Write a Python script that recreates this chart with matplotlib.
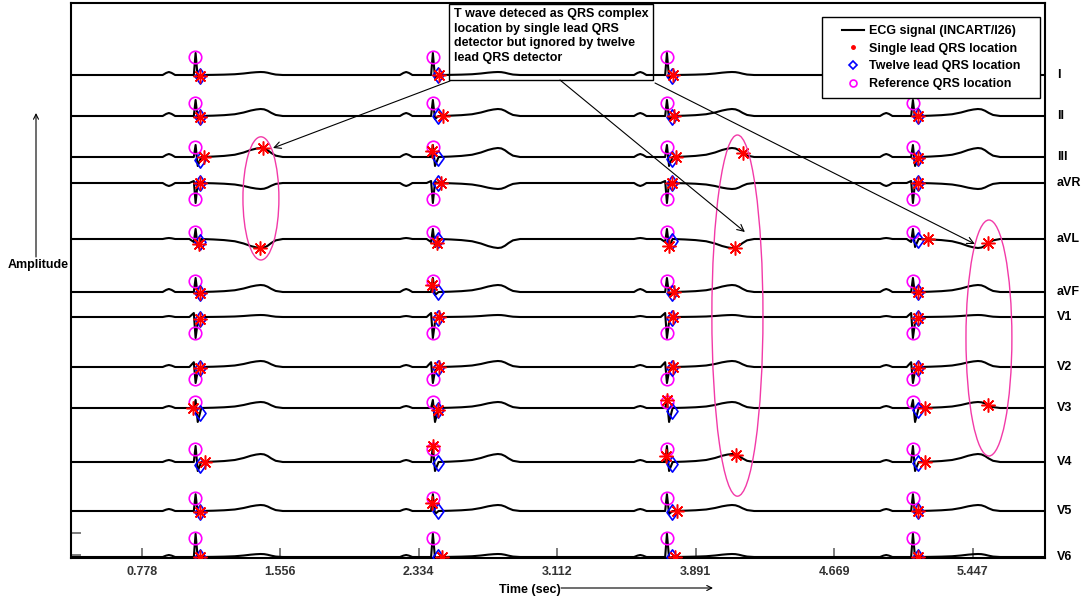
import numpy as np
import matplotlib.pyplot as plt
from matplotlib.lines import Line2D
from matplotlib.patches import Ellipse, Rectangle
from matplotlib.path import Path

plt.rcParams['font.family'] = ['Liberation Sans', 'DejaVu Sans']
plt.rcParams['font.weight'] = 'bold'
plt.rcParams['font.size'] = 9

# ---- data (time in sec, amplitude in mV, traces stacked) ----
leads = ['I', 'II', 'III', 'aVR', 'aVL', 'aVF', 'V1', 'V2', 'V3', 'V4', 'V5', 'V6']
baseline = [12.075, 11.05, 10.025, 9.375, 7.975, 6.65, 6.025, 4.775, 3.75, 2.4, 1.175, 0.025]

# wave amplitudes per lead
p_amp = [0.075, 0.075, 0.075, -0.075, 0.025, 0.075, 0.025, 0.05, 0.05, 0.05, 0.05, 0.05]
q_amp = [0.0, 0.0, 0.0, 0.05, -0.075, 0.0, 0.1, 0.12, 0.0, 0.0, 0.0, 0.0]
r_amp = [0.55, 0.4, 0.3, -0.5, 0.25, 0.35, -0.525, -0.4, 0.2, 0.4, 0.42, 0.58]
s_amp = [-0.075, -0.075, -0.225, 0.025, -0.2, -0.075, -0.125, -0.1, -0.35, -0.225, -0.075, -0.025]
t_amp = [0.075, 0.175, 0.225, -0.15, -0.225, 0.175, 0.05, 0.15, 0.15, 0.2, 0.15, 0.075]

# beat template: sample offsets from R peak (sec) and relative wave shapes
p_off = [-0.185, -0.165, -0.15, -0.135, -0.115]
p_shape = [0.0, 0.7, 1.0, 0.7, 0.0]
qrs_off = [-0.035, -0.010, 0.0, 0.012, 0.032]
t_off = [0.10, 0.16, 0.22, 0.27, 0.31, 0.34, 0.365, 0.385, 0.405, 0.425, 0.45, 0.49]
t_shape = [0.05, 0.12, 0.25, 0.5, 0.78, 0.93, 1.0, 0.95, 0.75, 0.45, 0.15, 0.0]

r_peaks = [1.081, 2.414, 3.729, 5.111]
ref_qrs = [1.079, 2.412, 3.727, 5.109]
twelve_qrs = [1.106, 2.443, 3.757, 5.140]
single_qrs = {
    'I':   [1.106, 2.448, 3.763, 5.140],
    'II':  [1.106, 2.471, 3.768, 5.140],
    'III': [1.128, 1.459, 2.409, 3.780, 4.156, 5.140],
    'aVR': [1.106, 2.459, 3.757, 5.140],
    'aVL': [1.100, 1.443, 2.437, 3.740, 4.111, 5.196, 5.533],
    'aVF': [1.106, 2.409, 3.768, 5.140],
    'V1':  [1.106, 2.448, 3.763, 5.140],
    'V2':  [1.106, 2.448, 3.763, 5.140],
    'V3':  [1.066, 2.443, 3.729, 5.179, 5.533],
    'V4':  [1.134, 2.414, 3.723, 4.117, 5.179],
    'V5':  [1.106, 2.409, 3.785, 5.140],
    'V6':  [1.106, 2.465, 3.774, 5.140],
}

xticks = [0.778, 1.556, 2.334, 3.112, 3.891, 4.669, 5.447]
xlabels = ['0.778', '1.556', '2.334', '3.112', '3.891', '4.669', '5.447']
xmin, xmax = 0.381, 5.853
ymax = 13.875

# annotation geometry (data coords)
note_box = [2.504, 11.95, 1.146, 1.9]
note_text = ('T wave deteced as QRS complex\nlocation by single lead QRS\n'
             'detector but ignored by twelve\nlead QRS detector')
arrows = [((2.510, 11.925), (1.516, 10.25)),
          ((3.128, 11.95), (4.167, 8.15)),
          ((3.662, 11.875), (5.459, 7.85))]
ellipses = [(1.448, 8.99, 0.202, 3.08),
            (4.125, 6.06, 0.287, 9.03),
            (5.538, 5.5, 0.258, 5.9)]


def trace(i):
    xs, ys = [xmin], [0.0]
    for r in r_peaks:
        xs += [r + o for o in p_off]
        ys += [p_amp[i] * f for f in p_shape]
        xs += [r + o for o in qrs_off]
        ys += [0.0, q_amp[i], r_amp[i], s_amp[i], 0.0]
        xs += [r + o for o in t_off]
        ys += [t_amp[i] * f for f in t_shape]
    xs.append(xmax)
    ys.append(0.0)
    return np.array(xs), np.array(ys) + baseline[i]


diamond = Path([(0, 1), (0.72, 0), (0, -1), (-0.72, 0), (0, 1)],
               [Path.MOVETO, Path.LINETO, Path.LINETO, Path.LINETO, Path.CLOSEPOLY])
aster = (8, 2, 0)

fig = plt.figure(figsize=(10.84, 6.0), dpi=100)
ax = fig.add_axes([71 / 1084, 42 / 600, 974 / 1084, 555 / 600])

for i, name in enumerate(leads):
    xs, ys = trace(i)
    ax.plot(xs, ys, color='black', lw=1.5, zorder=2)
    ax.plot(ref_qrs, np.interp(ref_qrs, xs, ys), ls='none', marker='o', ms=9,
            mfc='none', mec='#ff00ff', mew=1.2, zorder=4)
    ax.plot(twelve_qrs, np.interp(twelve_qrs, xs, ys), ls='none', marker=diamond, ms=11,
            mfc='none', mec='#0000ff', mew=1.2, zorder=4)
    st = single_qrs[name]
    ax.plot(st, np.interp(st, xs, ys), ls='none', marker=aster, ms=10,
            mec='#ff0000', mew=1.1, zorder=5)
    ax.text(1.012, baseline[i] / ymax, name, transform=ax.transAxes,
            ha='left', va='center', fontsize=9, fontweight='bold')

for cx, cy, w, h in ellipses:
    ax.add_patch(Ellipse((cx, cy), w, h, fill=False, ec='#f23aa8', lw=1.0, zorder=6))

bx, by, bw, bh = note_box
ax.add_patch(Rectangle((bx, by), bw, bh, fill=False, ec='black', lw=1.0, zorder=6))
ax.text(bx + 0.03, by + bh - 0.1, note_text, ha='left', va='top', fontsize=9,
        fontweight='bold', linespacing=1.3, zorder=7)
for (x0, y0), (x1, y1) in arrows:
    ax.annotate('', xy=(x1, y1), xytext=(x0, y0),
                arrowprops=dict(arrowstyle='->', lw=0.8, color='black',
                                shrinkA=0, shrinkB=0, mutation_scale=12), zorder=6)

ax.set_xlim(xmin, xmax)
ax.set_ylim(0, ymax)
ax.set_xticks(xticks)
ax.set_xticklabels(xlabels)
ax.set_yticks([0.075, 0.625])
ax.set_yticklabels(['', ''])
ax.tick_params(axis='both', direction='in', length=7, width=1.2, color='#666666',
               labelcolor='#333333', labelsize=9, pad=6)
for s in ax.spines.values():
    s.set_linewidth(1.5)

# legend with a hand-placed frame
ax.add_patch(Rectangle((0.771, 0.8288), 0.2238, 0.146, transform=ax.transAxes,
                       fc='white', ec='black', lw=1.0, zorder=8))
handles = [
    Line2D([], [], color='black', lw=1.5),
    Line2D([], [], ls='none', marker='.', ms=5, color='#ff0000'),
    Line2D([], [], ls='none', marker='D', ms=4, mfc='none', mec='#0000ff', mew=1.2),
    Line2D([], [], ls='none', marker='o', ms=5, mfc='none', mec='#ff00ff', mew=1.2),
]
labels = ['ECG signal (INCART/I26)', 'Single lead QRS location',
          'Twelve lead QRS location', 'Reference QRS location']
leg = ax.legend(handles, labels, loc='center', bbox_to_anchor=(0.883, 0.9018),
                frameon=False, handlelength=1.8, handletextpad=0.4,
                labelspacing=0.45, prop={'weight': 'bold', 'size': 9})
leg.set_zorder(9)

# outer axis labels with arrows
fig.text(530 / 1084, 10 / 600, 'Time (sec)', ha='center', va='center',
         fontsize=9, fontweight='bold')
fig.text(38 / 1084, 335 / 600, 'Amplitude', ha='center', va='center',
         fontsize=9, fontweight='bold')
ax.annotate('', xy=(713, 12), xytext=(561, 12), xycoords='figure pixels',
            arrowprops=dict(arrowstyle='->', lw=0.8, color='black', shrinkA=0, shrinkB=0))
ax.annotate('', xy=(36, 487), xytext=(36, 343), xycoords='figure pixels',
            arrowprops=dict(arrowstyle='->', lw=0.8, color='black', shrinkA=0, shrinkB=0))

fig.savefig('out.png', dpi=100)
